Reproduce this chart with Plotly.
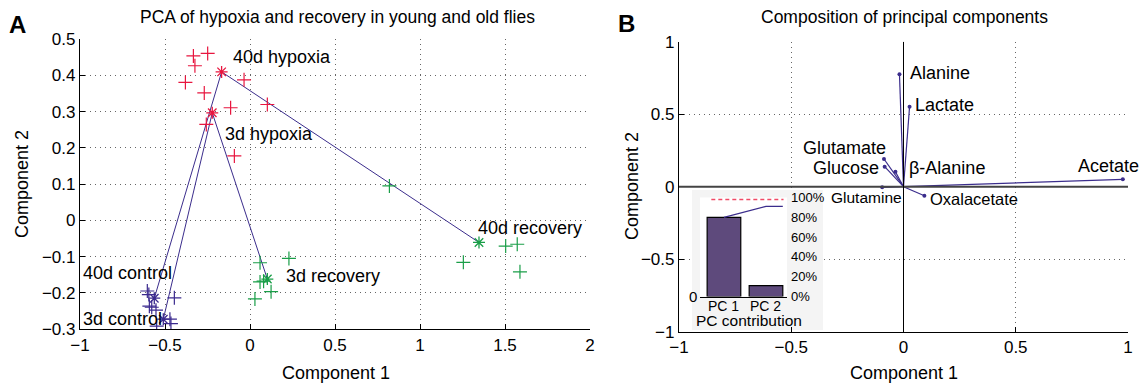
import plotly.graph_objects as go

W, H = 1144, 384
FONT = "Liberation Sans, Arial, sans-serif"

# ---------------- Panel A data ----------------
hyp_x = [-0.333, -0.249, -0.324, -0.380, -0.035, -0.269, -0.114, 0.102, -0.257, -0.092]
hyp_y = [0.454, 0.461, 0.427, 0.381, 0.388, 0.352, 0.311, 0.320, 0.265, 0.178]
rec_x = [0.059, 0.229, 0.059, 0.080, 0.124, 0.029, 0.820, 1.504, 1.572, 1.255, 1.588]
rec_y = [-0.117, -0.105, -0.170, -0.168, -0.197, -0.217, 0.095, -0.071, -0.066, -0.116, -0.142]
ctl_x = [-0.604, -0.595, -0.445, -0.592, -0.578, -0.553, -0.471, -0.465, -0.549]
ctl_y = [-0.195, -0.205, -0.214, -0.237, -0.240, -0.248, -0.273, -0.285, -0.292]

# group centroids (control, hypoxia, recovery)
cent3_x = [-0.510, -0.222, 0.102]
cent3_y = [-0.273, 0.297, -0.162]
cent40_x = [-0.563, -0.167, 1.347]
cent40_y = [-0.215, 0.410, -0.061]

grp_labels = ["40d hypoxia", "3d hypoxia", "40d recovery", "3d recovery", "40d control", "3d control"]
grp_lab_x = [-0.112, -0.159, 1.329, 0.200, -0.994, -0.994]
grp_lab_y = [0.451, 0.238, -0.021, -0.154, -0.146, -0.273]

# ---------------- Panel B data ----------------
metabolites = ["Alanine", "Lactate", "Glutamate", "Glucose", "β-Alanine", "Glutamine", "Oxalacetate", "Acetate"]
load_x = [-0.018, 0.027, -0.087, -0.084, -0.036, -0.095, 0.093, 0.977]
load_y = [0.775, 0.551, 0.191, 0.138, 0.103, -0.004, -0.062, 0.051]
met_lab_x = [0.021, 0.044, -0.070, -0.101, 0.014, 0.000, 0.108, 0.769]
met_lab_y = [0.782, 0.563, 0.269, 0.127, 0.127, -0.076, -0.087, 0.143]
met_lab_anchor = ["left", "left", "right", "right", "left", "right", "left", "left"]
met_lab_size = [18, 18, 18, 18, 18, 15.5, 16.5, 18]

# inset (pareto)
pc_names = ["PC 1", "PC 2"]
pc_pos = [1, 2]
pc_share = [0.80, 0.11]
pc_cum = [0.80, 0.91]

RED = "#e8163f"
GREEN = "#1a9e48"
PURP = "#3b2a8e"
LINE = "#3b2d8c"

def px2fx(px):
    return px / W

def py2fy(py):
    return 1 - py / H

fig = go.Figure()

# trajectories
fig.add_trace(go.Scatter(x=cent3_x, y=cent3_y, mode="lines", line=dict(color=LINE, width=1),
                         xaxis="x", yaxis="y", showlegend=False))
fig.add_trace(go.Scatter(x=cent40_x, y=cent40_y, mode="lines", line=dict(color=LINE, width=1),
                         xaxis="x", yaxis="y", showlegend=False))

for xs, ys, c in [(hyp_x, hyp_y, RED), (rec_x, rec_y, GREEN), (ctl_x, ctl_y, PURP)]:
    fig.add_trace(go.Scatter(x=xs, y=ys, mode="markers",
                             marker=dict(symbol="cross-thin-open", size=10, color=c, line=dict(color=c, width=1.2)),
                             xaxis="x", yaxis="y", showlegend=False))

cent_cols = [PURP, RED, GREEN]
for cx, cy in [(cent3_x, cent3_y), (cent40_x, cent40_y)]:
    fig.add_trace(go.Scatter(x=cx, y=cy, mode="markers",
                             marker=dict(symbol="asterisk-open", size=10, color=cent_cols,
                                         line=dict(color=cent_cols, width=1.3)),
                             xaxis="x", yaxis="y", showlegend=False))

# panel B arrows
ax_, ay_ = [], []
for lx, ly in zip(load_x, load_y):
    ax_ += [0, lx, None]
    ay_ += [0, ly, None]
fig.add_trace(go.Scatter(x=ax_, y=ay_, mode="lines", line=dict(color=LINE, width=1.2),
                         xaxis="x2", yaxis="y2", showlegend=False))
fig.add_trace(go.Scatter(x=load_x, y=load_y, mode="markers", marker=dict(color=LINE, size=4),
                         xaxis="x2", yaxis="y2", showlegend=False))

# inset
fig.add_trace(go.Bar(x=pc_pos, y=pc_share, width=0.8,
                     marker=dict(color="#5e4a7c", line=dict(color="black", width=1.2)),
                     xaxis="x3", yaxis="y3", showlegend=False))
fig.add_trace(go.Scatter(x=pc_pos + [2.4], y=pc_cum + [pc_cum[-1]], mode="lines",
                         line=dict(color=LINE, width=1.2), xaxis="x3", yaxis="y3", showlegend=False))

tickfont = dict(family=FONT, size=17, color="black")
common = dict(showline=True, linecolor="black", linewidth=1.3, ticks="inside", ticklen=5,
              tickcolor="black", showgrid=True, gridcolor="#666", griddash="1px,4px", gridwidth=1,
              zeroline=False, tickfont=tickfont, mirror=False, automargin=False)

fig.update_layout(
    width=W, height=H, margin=dict(l=0, r=0, t=0, b=0, autoexpand=False),
    paper_bgcolor="white", plot_bgcolor="white",
    font=dict(family=FONT, color="black"),
    xaxis=dict(domain=[px2fx(80), px2fx(590)], range=[-1, 2], dtick=0.5, anchor="y", **common),
    yaxis=dict(domain=[py2fy(329), py2fy(39.3)], range=[-0.3, 0.5], dtick=0.1, anchor="x", **common),
    xaxis2=dict(domain=[px2fx(679), px2fx(1128)], range=[-1, 1], dtick=0.5, anchor="y2", **common),
    yaxis2=dict(domain=[py2fy(331.7), py2fy(41.7)], range=[-1, 1], dtick=0.5, anchor="x2", **common),
    xaxis3=dict(domain=[px2fx(700), px2fx(787)], range=[0.43, 2.5], anchor="y3",
                showticklabels=False, showline=True, linecolor="black", linewidth=1.3,
                ticks="", showgrid=False, zeroline=False, automargin=False),
    yaxis3=dict(domain=[py2fy(296.5), py2fy(197.5)], range=[0, 1], anchor="x3", side="right",
                tickvals=[0, 0.2, 0.4, 0.6, 0.8, 1.0],
                ticktext=["0%", "20%", "40%", "60%", "80%", "100%"],
                showline=False, ticks="", ticklabelstandoff=3, automargin=False,
                showgrid=False, zeroline=False, tickfont=dict(family=FONT, size=13)),
)

# zero lines in panel B
fig.add_shape(type="line", xref="x2", yref="y2", x0=-1, x1=1, y0=0, y1=0,
              line=dict(color="#444", width=2))
fig.add_shape(type="line", xref="x2", yref="y2", x0=0, x1=0, y0=-1, y1=1,
              line=dict(color="black", width=1))

# inset background
fig.add_shape(type="rect", xref="x2", yref="y2", x0=(692 - 903.5) / 224.5, x1=(823 - 903.5) / 224.5,
              y0=(186.7 - 330) / 145, y1=(186.7 - 190) / 145, layer="between",
              line=dict(width=0), fillcolor="#f4f4f4")
fig.add_shape(type="line", xref="x3 domain", yref="y3", x0=0.13, x1=0.96, y0=0.98, y1=0.98,
              line=dict(color="#f04a66", width=1.4, dash="4px,3px"))

ann = []
for t, x, y in zip(grp_labels, grp_lab_x, grp_lab_y):
    ann.append(dict(text=t, x=x, y=y, xref="x", yref="y", xanchor="left", yanchor="middle",
                    showarrow=False, font=dict(size=18, family=FONT)))
for t, x, y, a, s in zip(metabolites, met_lab_x, met_lab_y, met_lab_anchor, met_lab_size):
    ann.append(dict(text=t, x=x, y=y, xref="x2", yref="y2", xanchor=a, yanchor="middle",
                    showarrow=False, font=dict(size=s, family=FONT)))
for t, x in zip(pc_names, pc_pos):
    ann.append(dict(text=t, x=x, y=py2fy(306), xref="x3", yref="paper", xanchor="center",
                    yanchor="middle", showarrow=False, font=dict(size=14, family=FONT)))

def pann(text, px, py, size, angle=0, anchor="center"):
    return dict(text=text, x=px2fx(px), y=py2fy(py), xref="paper", yref="paper", xanchor=anchor,
                yanchor="middle", showarrow=False, textangle=angle, font=dict(size=size, family=FONT))

ann += [
    pann("0", 699, 296.5, 15, anchor="right"),
    pann("PC contribution", 749, 320, 15.5),
    pann("PCA of hypoxia and recovery in young and old flies", 337, 17, 17.5),
    pann("Composition of principal components", 904, 17, 17.5),
    pann("Component 1", 336, 373, 18),
    pann("Component 1", 904, 373, 18),
    pann("Component 2", 22, 184, 18, angle=-90),
    pann("Component 2", 632, 186, 18, angle=-90),
    pann("<b>A</b>", 17, 24, 24),
    pann("<b>B</b>", 626, 23, 24),
]
fig.update_layout(annotations=ann)

fig.write_html("out.html")
